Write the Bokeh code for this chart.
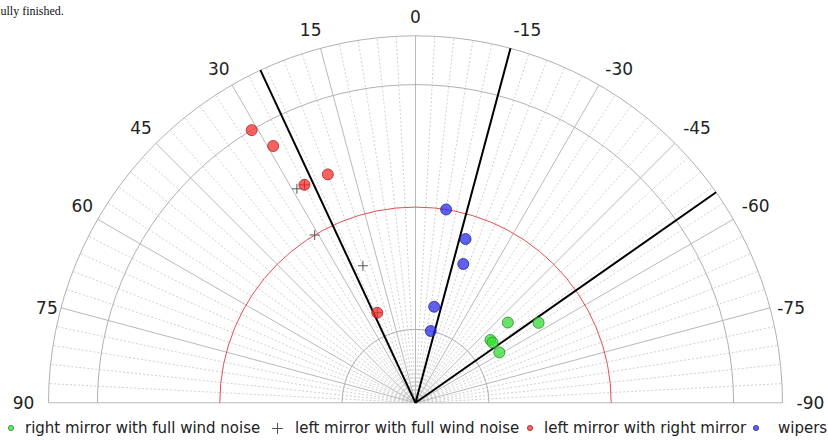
import numpy as np
from bokeh.plotting import figure
from bokeh.models import Range1d, Legend, LegendItem, Label
from bokeh.core.properties import value
from bokeh.embed import file_html
from bokeh.resources import INLINE

# ---------------- data ----------------
# angle in degrees: 0 = straight up, positive to the left; radius in radial units (outer edge = 15)
tick_angles = [90, 75, 60, 45, 30, 15, 0, -15, -30, -45, -60, -75, -90]
tick_labels = ["90", "75", "60", "45", "30", "15", "0", "-15", "-30", "-45", "-60", "-75", "-90"]
ring_radii = [3, 13, 15]
red_ring_radius = [8]
r_max = 15
line_angles = [25, -15, -55]

right_mirror_angle = [-49, -57, -50, -52, -59]
right_mirror_radius = [5, 6, 4, 4, 4]

left_wind_angle = [27, 29, 31, 21, 23]
left_wind_radius = [10, 10, 8, 6, 4]

left_right_angle = [31, 29, 27, 21, 23]
left_right_radius = [13, 12, 10, 10, 4]

wipers_angle = [-9, -17, -19, -11, -12]
wipers_radius = [8, 7, 6, 4, 3]


def polar(a, r):
    t = np.radians(np.asarray(a, dtype=float))
    r = np.asarray(r, dtype=float)
    return -r * np.sin(t), r * np.cos(t)


# ---------------- geometry ----------------
W, H = 828, 440
R_PX = 367.0
S = R_PX / r_max          # pixels per radial unit
CX, CY = 415.0, 402.3     # centre (pixels from top-left)

p = figure(width=W, height=H, output_backend="svg", toolbar_location=None,
           x_range=Range1d(-CX / S, (W - CX) / S),
           y_range=Range1d(-(H - CY) / S, CY / S),
           x_axis_location=None, y_axis_location=None,
           min_border=0, outline_line_color=None)
p.grid.grid_line_color = None
p.background_fill_color = "white"
p.border_fill_color = "white"

# minor dotted spokes every 3 degrees
minor = [a for a in range(-87, 88, 3) if a % 15 != 0]
mx, my = polar(minor, [r_max] * len(minor))
p.segment(x0=0, y0=0, x1=mx, y1=my, line_color="#d0d0d0", line_width=1, line_dash="2 2")

# major spokes every 15 degrees
sx, sy = polar(tick_angles, [r_max] * len(tick_angles))
p.segment(x0=0, y0=0, x1=sx, y1=sy, line_color="#b8b8b8", line_width=1)

# rings
p.arc(x=0, y=0, radius=ring_radii, start_angle=0, end_angle=np.pi,
      line_color="#b0b0b0", line_width=1)
p.arc(x=0, y=0, radius=red_ring_radius, start_angle=0, end_angle=np.pi,
      line_color="#e05050", line_width=1)

# black reference lines
lx, ly = polar(line_angles, [r_max] * len(line_angles))
p.segment(x0=0, y0=0, x1=lx, y1=ly, line_color="black", line_width=2)

# angle labels: placed just outside the outer ring
v_nudge = {45: 2.0, 60: 4.0, 75: -4.5}
lab_x, lab_y = [], []
for a, t in zip(tick_angles, tick_labels):
    th = np.radians(a)
    r0 = R_PX + 19
    px, py = -r0 * np.sin(th), r0 * np.cos(th)
    side = -np.sign(a)
    if abs(a) == 90:
        shift = 6 + (3 if t.startswith("-") else 0)
    else:
        shift = -7.6 + 13 * np.cos(th) + (7 if t.startswith("-") else 0)
    px += side * shift
    py += v_nudge.get(abs(a), 0.0)
    lab_x.append(px / S)
    lab_y.append(py / S)
p.text(x=lab_x, y=lab_y, text=tick_labels, text_align="center", text_baseline="middle",
       text_font=value("DejaVu Sans"), text_font_size="17px", text_color="#222222")

# data series
gx, gy = polar(right_mirror_angle, right_mirror_radius)
wx, wy = polar(left_wind_angle, left_wind_radius)
rx, ry = polar(left_right_angle, left_right_radius)
bx, by = polar(wipers_angle, wipers_radius)

r_plus = p.scatter(wx, wy, marker="cross", size=10, line_color="#555555", line_width=1)
r_green = p.scatter(gx, gy, marker="circle", size=11, fill_color="#33dd33", fill_alpha=0.75,
                    line_color="#2a8a2a", line_alpha=0.8, line_width=1)
r_red = p.scatter(rx, ry, marker="circle", size=11, fill_color="#ff2222", fill_alpha=0.72,
                  line_color="#9a2a2a", line_alpha=0.8, line_width=1)
r_blue = p.scatter(bx, by, marker="circle", size=11, fill_color="#2222ee", fill_alpha=0.72,
                   line_color="#2a2a8a", line_alpha=0.8, line_width=1)


def add_legend(renderer, label, x, y, gw, gh, lh, standoff):
    lg = Legend(items=[LegendItem(label=label, renderers=[renderer])], location=(x, y),
                orientation="horizontal", glyph_width=gw, glyph_height=gh,
                label_height=lh, label_standoff=standoff, padding=0, margin=0, spacing=0,
                border_line_color=None, background_fill_alpha=0,
                label_text_font="DejaVu Sans", label_text_font_size="15px",
                label_text_color="#222222")
    p.add_layout(lg, "center")


add_legend(r_green, "right mirror with full wind noise", 4, -0.2, 13, 13, 25, 8)
add_legend(r_plus, "left mirror with full wind noise", 263, -1.7, 28, 28, 28, 4)
add_legend(r_red, "left mirror with right mirror", 523, -0.2, 13, 13, 25, 8)
add_legend(r_blue, "wipers", 749, -0.2, 13, 13, 25, 16)

# text of the page above the chart
p.add_layout(Label(x=0, y=H - 10, x_units="screen", y_units="screen", text="ully finished.",
                   text_font="Liberation Serif", text_font_size="12px",
                   text_baseline="alphabetic", text_color="#111111"))

open("out.html", "w").write(file_html(p, INLINE))
